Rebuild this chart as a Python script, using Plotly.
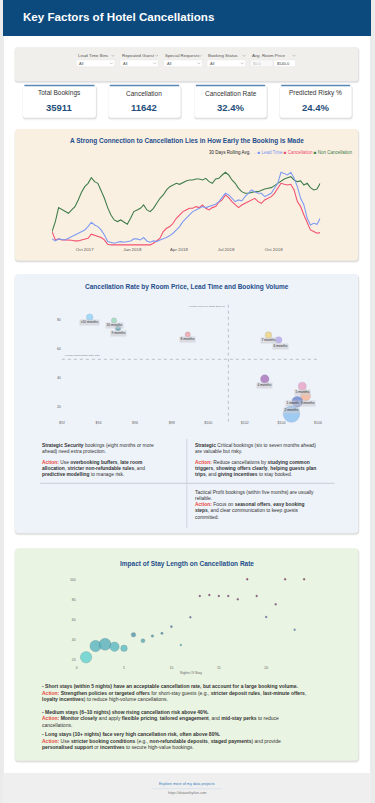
import plotly.graph_objects as go
import pandas as pd

W, H = 375, 803
FONT = "Liberation Sans, Arial, Helvetica, sans-serif"

# ---------------- data ----------------
kpi_labels = ["Total Bookings", "Cancellation", "Cancellation Rate", "Predicted Risky %"]
kpi_values = ["35911", "11642", "32.4%", "24.4%"]

filter_labels = ["Lead Time Bins", "Repeated Guest", "Special Requests", "Booking Status", "Avg. Room Price"]
filter_default = "All"
price_min_label, price_max_label = "$0.0", "$540.0"

# 30-day rolling averages (normalised index), Jul 2017 - Dec 2018
roll_start, roll_end = "2017-07-30", "2018-12-30"
lead_time_roll = [11.2, 8.8, 11.2, 10.4, 10, 12, 14, 16, 18, 20,
                  22, 26, 31.2, 28, 26, 22, 16, 8, 6.8, 6,
                  7.2, 8, 7.2, 8, 8.8, 11.2, 11.2, 10, 12.8, 8.8,
                  7.2, 8.8, 8, 10, 11.2, 12.8, 15.2, 18, 22, 26,
                  32, 36, 40, 44, 46, 48, 50, 48.8, 50, 52,
                  52.8, 56, 60.8, 66, 64, 60, 56, 58, 56.8, 62,
                  66, 70, 68, 66, 66, 62, 64, 66, 72, 78,
                  91.2, 90, 88, 91.2, 84, 74, 60, 52, 36, 28,
                  30, 28.8, 36]
cancel_roll = [20, 10, 11.2, 10, 10, 10, 9.6, 8.8, 8.8, 10,
               11.2, 12, 16.8, 15.2, 14, 12.8, 10, 4.8, 4, 4,
               3.6, 3.2, 3.2, 3.2, 3.2, 3.2, 3.2, 3.2, 3.2, 3.2,
               4, 6, 8.8, 12, 20, 24, 26, 30, 36, 40,
               44, 46, 48, 48, 50, 48.8, 52, 48, 46, 48.8,
               50, 55.2, 58, 64, 60.8, 56, 52.8, 48.8, 52, 54,
               56, 58, 60, 56, 54, 58, 60, 62, 66, 72,
               78, 76.8, 76, 76.8, 70, 56, 50, 40, 30, 22,
               20, 18, 18.8]
non_cancel_roll = [20, 32, 48.8, 46.8, 44.8, 42, 46, 50, 58, 67.2,
                   74, 78, 84.8, 80, 78, 70, 60, 48.8, 40, 34,
                   32, 34, 31.2, 28.8, 36, 44, 46, 48, 52, 46,
                   44, 48, 54, 60, 64, 70, 74, 76, 78, 76.8,
                   79.2, 80.8, 82, 82, 83.2, 83.2, 82, 84, 80, 78,
                   83.2, 84, 88, 91.2, 88, 82, 78, 72, 68, 66,
                   66, 67.2, 68, 68, 70, 71.2, 72, 72.8, 75.2, 78,
                   80.8, 83.2, 84.8, 86, 82, 80, 80.8, 76, 78, 72.8,
                   70, 71.2, 78]
roll_ticks = ["2017-10-01", "2018-01-01", "2018-04-01", "2018-07-01", "2018-10-01"]

lead_bins = [">10 months", "10 months", "9 months", "8 months", "7 months", "6 months",
             "4 months", "5 months", "3 months", "1 month", "2 months"]
bin_avg_price = [93.52, 94.85, 95.07, 98.88, 103.29, 103.85, 103.09, 105.14, 105.32, 104.87, 104.55]
bin_cancel_rate = [81.4, 79.2, 73.8, 69.5, 69.1, 65.8, 39.0, 34.0, 27.3, 23.4, 14.9]
bin_volume = [1830, 1220, 1240, 1210, 1850, 1820, 3100, 2700, 4200, 5100, 11600]
bin_colors = ["#8fd3f8", "#9ad9b5", "#5f9ea8", "#f0a0a6", "#eed47a", "#b4a8ec",
              "#a672b8", "#eaa2c4", "#f5b394", "#6c84cc", "#8cc2f2"]
overall_avg_price = 101.1
overall_avg_cancel = 52.5
price_ticks = [92, 94, 96, 98, 100, 102, 104, 106]
rate_ticks = [20, 40, 60, 80]

stay_nights = [1, 2, 3, 4, 5, 6, 7, 8, 9, 10, 11, 12, 13, 14, 15, 16, 17, 18, 19, 20, 21, 22, 23, 24]
stay_cancel_rate = [22.0, 33.3, 35.0, 32.6, 31.0, 44.6, 38.6, 43.3, 46.0, 52.6, 34.3, 62.0,
                    83.3, 84.3, 83.3, 83.3, 80.0, 100, 83.3, 62.3, 75.0, 100, 49.6, 100]
stay_volume = [7210, 7210, 7990, 4900, 2420, 1170, 890, 375, 320, 270, 140, 90,
               30, 45, 30, 12, 10, 5, 6, 8, 4, 3, 4, 3]
stay_ticks_x = [0, 5, 10, 15, 20]
stay_ticks_y = [20, 40, 60, 80, 100]

# ---------------- helpers ----------------
def X(p):
    return p / W

def Y(p):
    return 1 - p / H

shapes = []
annotations = []

def rect(x0, y0, x1, y1, fill, line_color=None, lw=0):
    shapes.append(dict(type="rect", xref="paper", yref="paper", x0=X(x0), x1=X(x1),
                       y0=Y(y1), y1=Y(y0), fillcolor=fill,
                       line=dict(width=lw, color=line_color or "rgba(0,0,0,0)"), layer="below"))

def rrect(x0, y0, x1, y1, r, fill, line_color=None, lw=0):
    p = (f"M {X(x0+r)},{Y(y0)} L {X(x1-r)},{Y(y0)} Q {X(x1)},{Y(y0)} {X(x1)},{Y(y0+r)} "
         f"L {X(x1)},{Y(y1-r)} Q {X(x1)},{Y(y1)} {X(x1-r)},{Y(y1)} "
         f"L {X(x0+r)},{Y(y1)} Q {X(x0)},{Y(y1)} {X(x0)},{Y(y1-r)} "
         f"L {X(x0)},{Y(y0+r)} Q {X(x0)},{Y(y0)} {X(x0+r)},{Y(y0)} Z")
    shapes.append(dict(type="path", xref="paper", yref="paper", path=p, fillcolor=fill,
                       line=dict(width=lw, color=line_color or "rgba(0,0,0,0)"), layer="below"))

def card(x0, y0, x1, y1, r, fill):
    rrect(x0 - 0.5, y0 + 0.5, x1 + 1.5, y1 + 2.5, r + 1, "rgba(0,0,0,0.05)")
    rrect(x0, y0 + 0.5, x1 + 0.8, y1 + 1.4, r, "rgba(0,0,0,0.08)")
    rrect(x0, y0, x1, y1, r, fill)

def line(x0, y0, x1, y1, color, w, dash=None):
    shapes.append(dict(type="line", xref="paper", yref="paper", x0=X(x0), y0=Y(y0),
                       x1=X(x1), y1=Y(y1), line=dict(color=color, width=w, dash=dash), layer="below"))

def chevron(cx, cy, color="#999"):
    p = f"M {X(cx-1.4)},{Y(cy-0.8)} L {X(cx)},{Y(cy+0.7)} L {X(cx+1.4)},{Y(cy-0.8)}"
    shapes.append(dict(type="path", xref="paper", yref="paper", path=p,
                       line=dict(color=color, width=0.5), layer="below"))

def text(x, y, s, size, color="#333", anchor="left", bg=None):
    annotations.append(dict(x=X(x), y=Y(y), xref="paper", yref="paper", text=s, showarrow=False,
                            xanchor=anchor, yanchor="middle", align=anchor,
                            font=dict(size=size, color=color, family=FONT),
                            borderpad=0, bgcolor=bg))

RED = "#e8453c"
DARK = "#333333"
TITLE_BLUE = "#1f4e8c"

# ---------------- page frame ----------------
rect(1, 36, 374, 773, "#ffffff")
rect(0, 0, 375, 36, "#0c4a7e")
rect(0, 773, 375, 803, "#efefef")
text(19.5, 17, "<b>Key Factors of Hotel Cancellations</b>", 11.6, "#ffffff")

# ---------------- filter bar ----------------
card(12, 47, 362, 81, 3, "#f0efeb")
label_x = [75, 120, 164.3, 208.3, 252.7]
label_chev = [112, 156.7, 201, 245.7, 296.7]
for lx, cx, lab in zip(label_x, label_chev, filter_labels):
    text(lx, 55.7, lab, 4.4, "#555")
    chevron(cx, 55.7)
box_x = [(74.7, 114), (119.3, 158), (163.7, 203), (208, 247.3)]
for bx0, bx1 in box_x:
    rect(bx0, 60, bx1, 66.7, "#ffffff", "#e3e3e3", 0.4)
    text(bx0 + 2, 63.4, filter_default, 4.0, "#555")
    chevron(bx1 - 3.5, 63.4)
rect(252, 60, 275, 66.7, "#f8f8f8", "#e3e3e3", 0.4)
text(254, 63.4, price_min_label, 4.0, "#bbbbbb")
rect(276, 60, 298, 66.7, "#ffffff", "#e3e3e3", 0.4)
text(277.8, 63.4, price_max_label, 4.0, "#444")

# ---------------- KPI cards ----------------
card_x = [(20.3, 94.7), (107.3, 181), (195, 268.7), (282, 355.3)]
for (cx0, cx1), lab, val in zip(card_x, kpi_labels, kpi_values):
    card(cx0, 85, cx1, 117.7, 3, "#ffffff")
    line(cx0 + 1.5, 85.5, cx1 - 1.5, 85.5, "#5a86b2", 1.3)
    text((cx0 + cx1) / 2, 93.3, lab, 6.5, DARK, "center")
    text((cx0 + cx1) / 2, 108, f"<b>{val}</b>", 9.5, "#1f4e79", "center")

# ---------------- panel 1 ----------------
card(12, 129, 362, 260.5, 4, "#faf0e2")
text(187.5, 141, "<b>A Strong Connection to Cancellation Lies in How Early the Booking is Made</b>",
     6.5, TITLE_BLUE, "center")
legend_txt = ("30 Days Rolling Avg. <span style='color:#777'>→</span> "
              "<span style='color:#7b96f0'>■ Lead Time</span> "
              "<span style='color:#ef4a6a'>■ Cancellation</span> "
              "<span style='color:#3f7d4a'>■ Non Cancellation</span>")
text(357, 152.7, legend_txt, 4.5, "#222", "right")

# ---------------- panel 2 ----------------
card(12, 274, 362, 533, 4, "#eef2f9")
text(187.5, 286.5, "<b>Cancellation Rate by Room Price, Lead Time and Booking Volume</b>",
     6.5, TITLE_BLUE, "center")
line(187.3, 439, 187.3, 528, "#c9cdd5", 0.8)
line(38, 483.3, 338, 483.3, "#c9cdd5", 1.0)
A = f"<b><span style='color:{RED}'>Action:</span></b>"
left_lines = [
    (445, "<b>Strategic Security</b> bookings (eight months or more"),
    (451.5, "ahead) need extra protection."),
    (462, f"{A} Use <b>overbooking buffers</b>, <b>late room</b>"),
    (468.2, "<b>allocation</b>, <b>stricter non-refundable rules</b>, and"),
    (474.4, "<b>predictive modelling</b> to manage risk."),
]
right_lines = [
    (445, "<b>Strategic</b> Critical bookings (six to seven months ahead)"),
    (451.5, "are valuable but risky."),
    (462, f"{A} Reduce cancellations by <b>studying common</b>"),
    (468.2, "<b>triggers</b>, <b>showing offers clearly</b>, <b>helping guests plan</b>"),
    (474.4, "<b>trips</b>, and <b>giving incentives</b> to stay booked."),
    (492.7, "Tactical Profit bookings (within five months) are usually"),
    (498.6, "reliable."),
    (504.6, f"{A} Focus on <b>seasonal offers</b>, <b>easy booking</b>"),
    (510.8, "<b>steps</b>, and clear communication to keep guests"),
    (517, "committed."),
]
for yy, s in left_lines:
    text(38.3, yy, s, 4.9, DARK)
for yy, s in right_lines:
    text(195, yy, s, 4.9, DARK)

# ---------------- panel 3 ----------------
card(12, 548.3, 362, 760.7, 4, "#eaf4e2")
text(187.5, 564, "<b>Impact of Stay Length on Cancellation Rate</b>", 6.5, TITLE_BLUE, "center")
text(192, 672.7, "Nights Of Stay", 3.4, "#666", "center")
bottom_lines = [
    (686, "<b>- Short stays (within 5 nights) have an acceptable cancellation rate, but account for a large booking volume.</b>"),
    (692.5, f"{A} <b>Strengthen policies or targeted offers</b> for short-stay guests (e.g., <b>stricter deposit rules</b>, <b>last-minute offers</b>,"),
    (698.9, "<b>loyalty incentives</b>) to reduce high-volume cancellations."),
    (712, "<b>- Medium stays (6–10 nights) show rising cancellation risk above 40%.</b>"),
    (718.4, f"{A} <b>Monitor closely</b> and apply <b>flexible pricing</b>, <b>tailored engagement</b>, and <b>mid-stay perks</b> to reduce"),
    (724.7, "cancellations."),
    (734.4, "<b>- Long stays (10+ nights) face very high cancellation risk, often above 80%.</b>"),
    (740.9, f"{A} Use <b>stricter booking conditions</b> (e.g., <b>non-refundable deposits</b>, <b>staged payments</b>) and provide"),
    (747.3, "<b>personalised support</b> or <b>incentives</b> to secure high-value bookings."),
]
for yy, s in bottom_lines:
    text(38.3, yy, s, 5.0, DARK)

# ---------------- footer ----------------
text(187.5, 784.3, "Explore more of my data projects", 3.8, "#3a7fc1", "center")
line(151.7, 788.7, 222.7, 788.7, "#d3e0ee", 0.7)
text(187.5, 793.3, "https://datawithyifan.com", 3.5, "#777", "center")

# ---------------- traces ----------------
roll_dates = pd.date_range(roll_start, roll_end, periods=len(lead_time_roll))
fig = go.Figure()
fig.add_trace(go.Scatter(x=roll_dates, y=non_cancel_roll, mode="lines", name="Non Cancellation",
                         line=dict(color="#3f7d4a", width=1.1), xaxis="x", yaxis="y", showlegend=False))
fig.add_trace(go.Scatter(x=roll_dates, y=cancel_roll, mode="lines", name="Cancellation",
                         line=dict(color="#f2506e", width=1.1), xaxis="x", yaxis="y", showlegend=False))
fig.add_trace(go.Scatter(x=roll_dates, y=lead_time_roll, mode="lines", name="Lead Time",
                         line=dict(color="#7f9bf2", width=1.1), xaxis="x", yaxis="y", showlegend=False))

fig.add_trace(go.Scatter(x=bin_avg_price, y=bin_cancel_rate, mode="markers", text=lead_bins,
                         marker=dict(size=bin_volume, sizemode="area", sizeref=84, color=bin_colors,
                                     opacity=0.8, line=dict(width=0.4, color="rgba(120,120,160,0.5)")),
                         cliponaxis=False, xaxis="x2", yaxis="y2", showlegend=False))

fig.add_trace(go.Scatter(x=stay_nights, y=stay_cancel_rate, mode="markers",
                         marker=dict(size=stay_volume, sizemode="area", sizeref=111, sizemin=1.0,
                                     color=stay_cancel_rate, cmin=20, cmax=100,
                                     colorscale=[[0, "#63d4d2"], [0.15, "#5bb9c2"], [0.3, "#5596aa"],
                                                 [0.42, "#5a70ae"], [0.55, "#70509a"], [0.75, "#84306a"],
                                                 [1, "#8e1e4e"]],
                                     opacity=0.8, line=dict(width=0.5, color="rgba(50,90,110,0.45)")),
                         cliponaxis=False, xaxis="x3", yaxis="y3", showlegend=False))

# bubble labels
label_shift = {">10 months": (0, -5), "10 months": (0, -4.7), "9 months": (0, -5), "8 months": (0, -5.4),
               "7 months": (0, -5.7), "6 months": (1.7, -6.3), "4 months": (0, -7), "5 months": (0, -6.7),
               "3 months": (1.7, -8), "1 month": (-5, -2.3), "2 months": (0.3, 4)}
for b, xp, yr in zip(lead_bins, bin_avg_price, bin_cancel_rate):
    dx, dy = label_shift[b]
    annotations.append(dict(x=xp, y=yr, xref="x2", yref="y2", text=b, showarrow=False,
                            xshift=dx, yshift=dy, font=dict(size=3.4, color="#333", family=FONT),
                            bgcolor="rgba(205,205,210,0.6)", borderpad=0.4))

# reference lines in panel 2
shapes.append(dict(type="line", xref="x2", yref="paper", x0=overall_avg_price, x1=overall_avg_price,
                   y0=Y(421.7), y1=Y(304.7), line=dict(color="#9aa0a8", width=0.6, dash="dot")))
shapes.append(dict(type="line", xref="x2 domain", yref="y2", x0=0, x1=1, y0=overall_avg_cancel,
                   y1=overall_avg_cancel, line=dict(color="#9aa0a8", width=0.6, dash="dot")))
annotations.append(dict(x=overall_avg_price, y=Y(306.2), xref="x2", yref="paper",
                        text=f"Average Price per Night: ${overall_avg_price:.2f}", showarrow=False,
                        xanchor="right", yanchor="middle", xshift=-0.5,
                        font=dict(size=2.5, color="#777", family=FONT)))
annotations.append(dict(x=0, y=overall_avg_cancel, xref="x2 domain", yref="y2",
                        text=f"Average Cancellation Rate: {overall_avg_cancel:.0f}%", showarrow=False,
                        xanchor="left", yanchor="bottom", yshift=0.3,
                        font=dict(size=2.5, color="#777", family=FONT)))

axis_common = dict(showgrid=False, zeroline=False, showline=False, ticks="")
fig.update_layout(
    width=W, height=H, margin=dict(l=0, r=0, t=0, b=0),
    paper_bgcolor="#ebebeb", plot_bgcolor="rgba(0,0,0,0)",
    font=dict(family=FONT),
    showlegend=False,
    xaxis=dict(domain=[X(50), X(323.3)], range=[roll_start, roll_end], anchor="y",
               tickvals=roll_ticks, tickformat="%b %Y",
               tickfont=dict(size=4.4, color="#555"), **axis_common),
    yaxis=dict(domain=[Y(246), Y(165)], range=[2.7, 100], anchor="x", visible=False),
    xaxis2=dict(domain=[X(60), X(321)], range=[92, 106], anchor="y2",
                tickvals=price_ticks, ticktext=[f"${v}" for v in price_ticks],
                tickfont=dict(size=3.6, color="#666"), **axis_common),
    yaxis2=dict(domain=[Y(419), Y(304.7)], range=[11.5, 90], anchor="x2",
                tickvals=rate_ticks, ticksuffix="%",
                tickfont=dict(size=3.6, color="#666"), **axis_common),
    xaxis3=dict(domain=[X(75), X(316.5)], range=[0, 25], anchor="y3",
                tickvals=stay_ticks_x, tickfont=dict(size=3.4, color="#666"), **axis_common),
    yaxis3=dict(domain=[Y(664.3), Y(574.3)], range=[15, 105], anchor="x3",
                tickvals=stay_ticks_y, ticksuffix="%",
                tickfont=dict(size=3.4, color="#666"), **axis_common),
    shapes=shapes,
    annotations=annotations,
)

fig.write_html("out.html", config={"displayModeBar": False},
               post_script="document.body.style.margin='0';document.body.style.overflow='hidden';")
